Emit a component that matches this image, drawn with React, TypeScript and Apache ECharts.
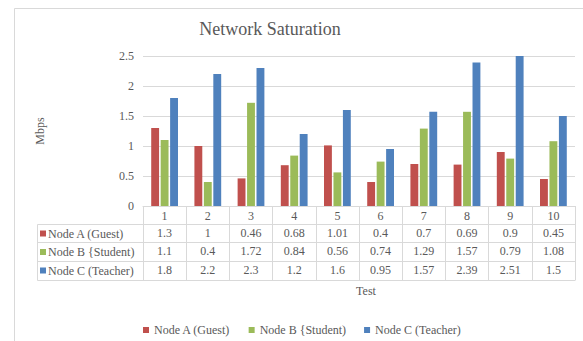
import React, { useEffect, useRef } from "react";
import * as echarts from "echarts";

const categories = ["1", "2", "3", "4", "5", "6", "7", "8", "9", "10"];
const seriesNames = ["Node A (Guest)", "Node B {Student)", "Node C (Teacher)"];
const nodeA = [1.3, 1, 0.46, 0.68, 1.01, 0.4, 0.7, 0.69, 0.9, 0.45];
const nodeB = [1.1, 0.4, 1.72, 0.84, 0.56, 0.74, 1.29, 1.57, 0.79, 1.08];
const nodeC = [1.8, 2.2, 2.3, 1.2, 1.6, 0.95, 1.57, 2.39, 2.51, 1.5];
const seriesValues = [nodeA, nodeB, nodeC];
const colors = ["#C0504D", "#9BBB59", "#4F81BD"];
const yMin = 0;
const yMax = 2.5;
const yStep = 0.5;

const FONT = "'Liberation Serif', 'DejaVu Serif', serif";
const TXT = "#595959";
const LINE = "#d9d9d9";

export default function App() {
  const ref = useRef<HTMLDivElement>(null);
  useEffect(() => {
    if (!ref.current) return;
    const chart = echarts.init(ref.current, null, { renderer: "svg" });
    const rowMargins = [21, 39, 58];
    const rowCenters = [233.5, 252, 270.5];
    const hLines = [224.5, 242.5, 261.5, 280.5];

    const graphic: any[] = [
      {
        type: "rect",
        shape: { x: 14.5, y: 8.5, width: 700, height: 500 },
        style: { fill: "none", stroke: LINE, lineWidth: 1 },
        silent: true,
      },
      {
        type: "text",
        x: 270,
        y: 29,
        style: {
          text: "Network Saturation",
          fill: TXT,
          font: `18px ${FONT}`,
          textAlign: "center",
          textVerticalAlign: "middle",
        },
      },
      {
        type: "line",
        shape: { x1: 37.5, y1: 224.5, x2: 37.5, y2: 280.5 },
        style: { stroke: LINE, lineWidth: 1 },
      },
    ];
    hLines.forEach((y) => {
      graphic.push({
        type: "line",
        shape: { x1: 37.5, y1: y, x2: 575.5, y2: y },
        style: { stroke: LINE, lineWidth: 1 },
      });
    });
    seriesNames.forEach((n, i) => {
      graphic.push({
        type: "rect",
        shape: { x: 40, y: rowCenters[i] - 3, width: 6, height: 6 },
        style: { fill: colors[i] },
      });
      graphic.push({
        type: "text",
        x: 48,
        y: rowCenters[i],
        style: {
          text: n,
          fill: TXT,
          font: `12px ${FONT}`,
          textAlign: "left",
          textVerticalAlign: "middle",
        },
      });
    });

    const xAxes: any[] = [
      {
        type: "category",
        data: categories,
        position: "bottom",
        axisLine: { lineStyle: { color: LINE } },
        axisTick: { show: true, length: 74, lineStyle: { color: LINE } },
        axisLabel: { margin: 4, color: TXT, fontSize: 12, fontFamily: FONT },
        name: "Test",
        nameLocation: "middle",
        nameGap: 79,
        nameTextStyle: { color: TXT, fontSize: 12, fontFamily: FONT, padding: [0, 0, 0, 14] },
      },
    ];
    seriesValues.forEach((vals, i) => {
      xAxes.push({
        type: "category",
        data: vals.map((v) => String(v)),
        position: "bottom",
        axisLine: { show: false },
        axisTick: { show: false },
        axisLabel: { margin: rowMargins[i], color: TXT, fontSize: 12, fontFamily: FONT },
      });
    });

    chart.setOption({
      animation: false,
      textStyle: { fontFamily: FONT },
      grid: { left: 143, right: 8, top: 56, bottom: 135, containLabel: false },
      xAxis: xAxes,
      yAxis: {
        type: "value",
        min: yMin,
        max: yMax,
        interval: yStep,
        axisLine: { show: false },
        axisTick: { show: false },
        splitLine: { lineStyle: { color: LINE } },
        axisLabel: { margin: 9, color: TXT, fontSize: 12, fontFamily: FONT },
        name: "Mbps",
        nameLocation: "middle",
        nameGap: 97,
        nameRotate: 90,
        nameTextStyle: { color: TXT, fontSize: 12, fontFamily: FONT },
      },
      legend: {
        left: 138,
        top: 319,
        icon: "rect",
        itemWidth: 6,
        itemHeight: 6,
        itemGap: 18,
        textStyle: { color: TXT, fontSize: 12, fontFamily: FONT },
        data: seriesNames,
      },
      graphic,
      series: seriesValues.map((vals, i) => ({
        name: seriesNames[i],
        type: "bar",
        xAxisIndex: 0,
        data: vals,
        itemStyle: { color: colors[i] },
        barCategoryGap: "38%",
        barGap: "20%",
        clip: true,
      })),
    });
    return () => chart.dispose();
  }, []);
  return (
    <div
      ref={ref}
      style={{ position: "fixed", left: 0, top: 0, width: 583, height: 341, background: "#fff" }}
    />
  );
}
